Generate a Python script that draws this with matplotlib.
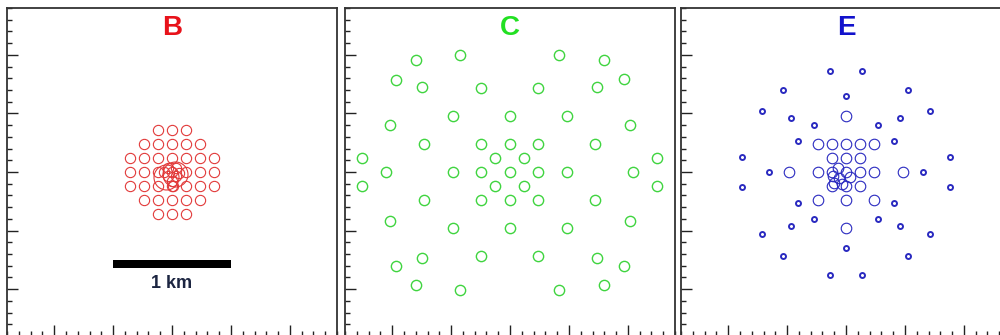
import matplotlib
matplotlib.use("Agg")
import matplotlib.pyplot as plt
from matplotlib.patches import Rectangle
from matplotlib.ticker import MultipleLocator

plt.rcParams["font.family"] = ["Liberation Sans", "DejaVu Sans"]

# ---- array layouts (metres from array centre) ----
# B: square grid core (120 m) plus a few overlapping dishes in the middle
b_x = [-120, 0, 120,
       -240, -120, 0, 120, 240,
       -360, -240, -120, 0, 120, 240, 360,
       -360, -240, -120, 0, 120, 240, 360,
       -360, -240, -120, 0, 120, 240, 360,
       -240, -120, 0, 120, 240,
       -120, 0, 120]
b_y = [360, 360, 360,
       240, 240, 240, 240, 240,
       120, 120, 120, 120, 120, 120, 120,
       0, 0, 0, 0, 0, 0, 0,
       -120, -120, -120, -120, -120, -120, -120,
       -240, -240, -240, -240, -240,
       -360, -360, -360]
b_core_x = [-30, 30, -30, 30, 0, -70, 60, 10]
b_core_y = [30, 30, -30, -30, -75, 0, -10, -120]
b_big_x = [-50, 25]
b_big_y = [-45, -15]

# C: sparse ring layout
c_x = [-800, -425, 415, 800,
       -970, -745, -245, 240, 740, 970,
       -485, 0, 485,
       -1020, 1015,
       -730, -245, 0, 240, 725,
       -1255, -130, 120, 1250,
       -1050, -485, -245, 0, 240, 485, 1045,
       -1255, -130, 120, 1250,
       -730, -245, 0, 240, 725,
       -1020, 1015,
       -485, 0, 485,
       -970, -745, -245, 240, 740, 970,
       -800, -425, 415, 800]
c_y = [955, 1000, 1000, 955,
       785, 725, 715, 715, 725, 790,
       480, 480, 480,
       405, 405,
       240, 240, 240, 240, 240,
       120, 120, 120, 120,
       0, 0, 0, 0, 0, 0, 0,
       -120, -120, -120, -120,
       -240, -240, -240, -240, -240,
       -415, -415,
       -480, -480, -480,
       -800, -730, -720, -720, -730, -800,
       -965, -1005, -1005, -965]

# E: small dishes on outer spiral, large dishes in a central cross
e_small_x = [-135, 135, -535, 530, 0, -715, 715, -465, 460, -275, 270,
             -410, 410, -880, 880, -655, 655, -880, 880, -410, 410,
             -275, 270, -465, 460, -715, 715, 0, -535, 530, -135, 135]
e_small_y = [865, 865, 700, 700, 645, 525, 525, 460, 460, 400, 400,
             265, 265, 125, 125, 0, 0, -130, -130, -265, -265,
             -405, -405, -460, -460, -530, -530, -650, -715, -715, -875, -875]
e_large_x = [0,
             -240, -120, 0, 120, 240,
             -120, 0, 120,
             -480, -240, -120, 0, 120, 240, 480,
             -120, 0, 120,
             -240, 0, 240,
             0,
             -60, -100, -30, -110, 30, -70]
e_large_y = [480,
             240, 240, 240, 240, 240,
             120, 120, 120,
             0, 0, 0, 0, 0, 0, 0,
             -120, -120, -120,
             -240, -240, -240,
             -480,
             -50, -90, -100, -30, -40, 30]

titles = ["B", "C", "E"]
title_colors = ["#e8121a", "#22e022", "#1212cc"]

RED = "#e23a3a"
GREEN = "#3fd43f"
BLUE = "#2a2ac0"

fig = plt.figure(figsize=(10, 3.35), dpi=100)
W, H = 1000.0, 335.0
lefts = [7, 345, 681]
axes = []
for lft in lefts:
    ax = fig.add_axes([lft / W, (H - 336) / H, 330 / W, 328 / H])
    ax.set_xlim(-1400, 1400)
    ax.set_ylim(-1400, 1400)
    ax.xaxis.set_major_locator(MultipleLocator(500))
    ax.xaxis.set_minor_locator(MultipleLocator(100))
    ax.yaxis.set_major_locator(MultipleLocator(500))
    ax.yaxis.set_minor_locator(MultipleLocator(100))
    ax.tick_params(which="both", direction="in", top=False, right=False,
                   labelbottom=False, labelleft=False, color="#222222",
                   width=1.0)
    ax.tick_params(which="major", length=8)
    ax.tick_params(which="minor", length=3.8)
    for sp in ax.spines.values():
        sp.set_color("#333333")
        sp.set_linewidth(1.3)
    axes.append(ax)

ax_b, ax_c, ax_e = axes

# Panel B
ax_b.plot(b_x, b_y, "o", ms=7.4, mfc="none", mec=RED, mew=0.8)
ax_b.plot(b_core_x, b_core_y, "o", ms=7.4, mfc="none", mec=RED, mew=0.8)
ax_b.plot(b_big_x, b_big_y, "o", ms=18, mfc="none", mec=RED, mew=0.8)
ax_b.add_patch(Rectangle((-500, -820), 1000, 68, color="black", lw=0))
ax_b.text(0, -950, "1 km", ha="center", va="center", fontsize=13,
          fontweight="bold", color="#1c2541")

# Panel C
ax_c.plot(c_x, c_y, "o", ms=7.4, mfc="none", mec=GREEN, mew=1.0)

# Panel E
ax_e.plot(e_large_x, e_large_y, "o", ms=7.6, mfc="none", mec=BLUE, mew=0.8)
ax_e.plot(e_small_x, e_small_y, "o", ms=3.6, mfc="none", mec=BLUE, mew=1.4)

for ax, t, col in zip(axes, titles, title_colors):
    ax.text(0.5, 0.94, t, transform=ax.transAxes, ha="center", va="center",
            fontsize=20, fontweight="bold", color=col)

fig.savefig("out.png", dpi=100, facecolor="white")
